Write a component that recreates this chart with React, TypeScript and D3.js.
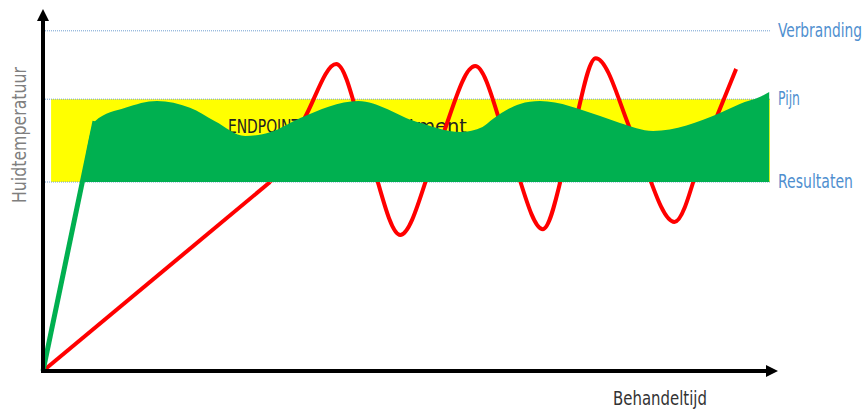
import { useEffect, useRef } from "react";
import * as d3 from "d3";

const WIDTH = 867;
const HEIGHT = 411;

// levels (y in 0..100 "skin temperature" units)
const levelNames = ["Verbranding", "Pijn", "Resultaten"];
const levelValues = [94.5, 75.5, 52.5];

// therapeutic window (yellow band)
const bandX = [1.1, 98.9];
const bandY = [52.5, 75.5];

// red line: straight rise, then oscillation
const redRiseX = [0, 30.9];
const redRiseY = [0, 52.5];
const redX = [30.9, 35.6, 39.9, 44.2, 48.6, 53.6, 58.8, 63.4, 68.0, 71.7, 75.2, 80.5, 85.9, 90.1, 94.3];
const redY = [52.5, 70.3, 85.3, 61.4, 37.8, 61.4, 84.7, 61.9, 39.4, 63.1, 86.9, 64.2, 41.4, 62.8, 83.9];

// green rise
const riseX = [0, 7.07];
const riseY = [0, 69.4];

// green area top
const greenX = [5.3, 7.07, 11.2, 15.5, 20.0, 23.4, 27.5, 31.0, 35.0, 42.9, 50.9, 56.8, 59.8, 61.2, 64.9, 67.6, 75.8, 78.5, 83.0, 92.1, 94.8, 97.5, 98.8];
const greenY = [52.5, 69.4, 73.1, 75.0, 73.1, 69.4, 65.3, 66.4, 70.3, 75.0, 69.2, 66.4, 67.8, 70.0, 74.2, 75.0, 70.8, 68.9, 66.7, 71.7, 74.2, 76.1, 77.5];

const centerLabel = ["ENDPOINT", "of the treatment"];
const xTitle = "Behandeltijd";
const yTitle = "Huidtemperatuur";

const FONT = "'Liberation Sans Narrow', 'DejaVu Sans Condensed', 'Open Sans', sans-serif";

// squeeze a text horizontally to a wanted width
const fitText = (
  sel: d3.Selection<SVGTextElement, unknown, null, undefined>,
  tx: number,
  ty: number,
  w: number,
  rotate = 0
) => {
  const len = (sel.node() as SVGTextElement).getComputedTextLength() || w;
  sel.attr("transform", `translate(${tx},${ty}) rotate(${rotate}) scale(${w / len},1)`);
};

export default function App() {
  const ref = useRef<SVGSVGElement>(null);

  useEffect(() => {
    const svg = d3.select(ref.current);
    svg.selectAll("*").remove();

    const x = d3.scaleLinear().domain([0, 100]).range([43, 778]);
    const y = d3.scaleLinear().domain([0, 100]).range([371, 11]);

    // yellow band
    svg
      .append("rect")
      .attr("x", x(bandX[0]))
      .attr("y", y(bandY[1]))
      .attr("width", x(bandX[1]) - x(bandX[0]))
      .attr("height", y(bandY[0]) - y(bandY[1]))
      .attr("fill", "#ffff00");

    // dotted level lines
    levelValues.forEach((v) => {
      svg
        .append("line")
        .attr("x1", x(0))
        .attr("x2", x(98.9))
        .attr("y1", y(v))
        .attr("y2", y(v))
        .attr("stroke", "#6f9fd0")
        .attr("stroke-width", 1)
        .attr("stroke-dasharray", "1 1");
    });

    // label partly hidden behind the green area
    const midPos = [
      [228, 72],
      [307, 160],
    ];
    centerLabel.forEach((s, i) => {
      const t = svg
        .append("text")
        .attr("font-family", FONT)
        .attr("font-size", 19)
        .attr("fill", "#222")
        .text(s);
      fitText(t, midPos[i][0], 133, midPos[i][1]);
    });

    // red line
    const lin = d3.line<number>();
    svg
      .append("path")
      .attr("d", lin.x((d) => x(redRiseX[d])).y((d) => y(redRiseY[d]))([0, 1]))
      .attr("fill", "none")
      .attr("stroke", "#ff0000")
      .attr("stroke-width", 4);
    const redLine = d3
      .line<number>()
      .x((d) => x(redX[d]))
      .y((d) => y(redY[d]))
      .curve(d3.curveMonotoneX);
    svg
      .append("path")
      .attr("d", redLine(d3.range(redX.length)))
      .attr("fill", "none")
      .attr("stroke", "#ff0000")
      .attr("stroke-width", 4);

    // green area
    const area = d3
      .area<number>()
      .x((d) => x(greenX[d]))
      .y0(y(bandY[0]))
      .y1((d) => y(greenY[d]))
      .curve(d3.curveMonotoneX);
    svg
      .append("path")
      .attr("d", area(d3.range(greenX.length)))
      .attr("fill", "#00b050");

    const rise = d3
      .line<number>()
      .x((d) => x(riseX[d]))
      .y((d) => y(riseY[d]));
    svg
      .append("path")
      .attr("d", rise([0, 1]))
      .attr("fill", "none")
      .attr("stroke", "#00b050")
      .attr("stroke-width", 5);

    // axes with arrows
    svg
      .append("line")
      .attr("x1", x(0))
      .attr("y1", y(0))
      .attr("x2", x(0))
      .attr("y2", 20)
      .attr("stroke", "#000")
      .attr("stroke-width", 4);
    svg
      .append("path")
      .attr("d", `M${x(0)},9 L${x(0) - 6},21 L${x(0) + 6},21 Z`)
      .attr("fill", "#000");

    svg
      .append("line")
      .attr("x1", x(0) - 2)
      .attr("y1", y(0))
      .attr("x2", 767)
      .attr("y2", y(0))
      .attr("stroke", "#000")
      .attr("stroke-width", 4);
    svg
      .append("path")
      .attr("d", `M778,${y(0)} L766,${y(0) - 6} L766,${y(0) + 6} Z`)
      .attr("fill", "#000");

    // level labels
    const labelWidths = [84, 22, 75];
    levelNames.forEach((name, i) => {
      const t = svg
        .append("text")
        .attr("font-family", FONT)
        .attr("font-size", 19)
        .attr("fill", "#4f8fcf")
        .text(name);
      fitText(t, 778, y(levelValues[i]) + 6, labelWidths[i]);
    });

    const xt = svg
      .append("text")
      .attr("font-family", FONT)
      .attr("font-size", 20)
      .attr("fill", "#333")
      .text(xTitle);
    fitText(xt, 613, 405, 94);

    const yt = svg
      .append("text")
      .attr("font-family", FONT)
      .attr("font-size", 20)
      .attr("fill", "#7f7f7f")
      .text(yTitle);
    fitText(yt, 26, 203, 136, -90);
  }, []);

  return (
    <div style={{ position: "absolute", left: 0, top: 0 }}>
      <svg ref={ref} width={WIDTH} height={HEIGHT} style={{ display: "block" }} />
    </div>
  );
}
